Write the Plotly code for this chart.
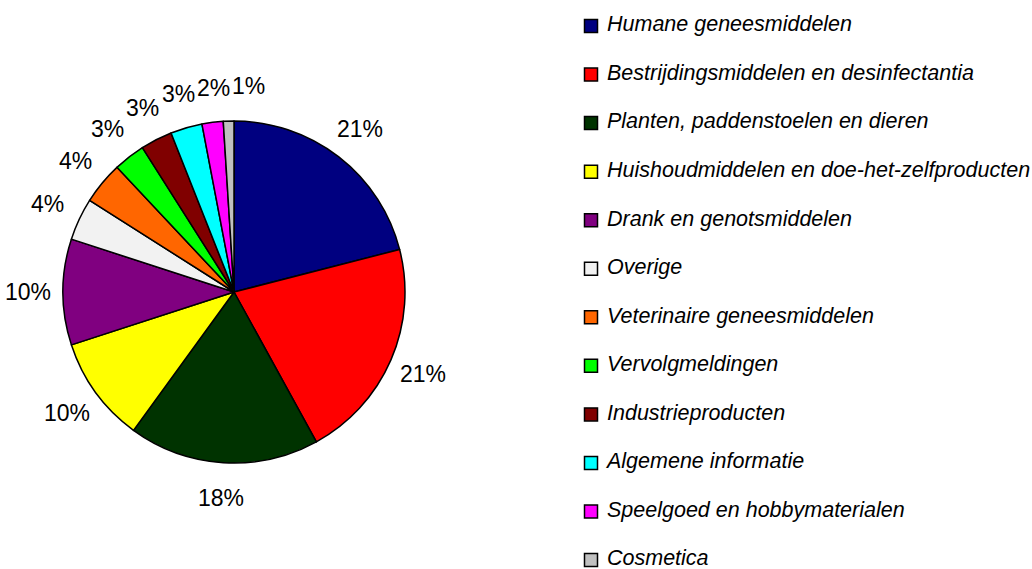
import math
import plotly.graph_objects as go

categories = [
    "Humane geneesmiddelen",
    "Bestrijdingsmiddelen en desinfectantia",
    "Planten, paddenstoelen en dieren",
    "Huishoudmiddelen en doe-het-zelfproducten",
    "Drank en genotsmiddelen",
    "Overige",
    "Veterinaire geneesmiddelen",
    "Vervolgmeldingen",
    "Industrieproducten",
    "Algemene informatie",
    "Speelgoed en hobbymaterialen",
    "Cosmetica",
]
percentages = [21, 21, 18, 10, 10, 4, 4, 3, 3, 3, 2, 1]
colors = [
    "#000080", "#FF0000", "#003300", "#FFFF00", "#800080", "#F2F2F2",
    "#FF6600", "#00FF00", "#800000", "#00FFFF", "#FF00FF", "#C0C0C0",
]

FONT = "Liberation Sans, Arial, sans-serif"
W, H = 1032, 569

# pie geometry in pixels
cx, cy, r = 234, 292, 171
label_r = 206
label_size = 23

fig = go.Figure()
fig.add_trace(go.Pie(
    labels=categories,
    values=percentages,
    sort=False,
    direction="clockwise",
    rotation=0,
    marker=dict(colors=colors, line=dict(color="black", width=1.5)),
    textinfo="none",
    hoverinfo="label+percent",
    showlegend=False,
    domain=dict(x=[(cx - r) / W, (cx + r) / W],
                y=[1 - (cy + r) / H, 1 - (cy - r) / H]),
))

# approximate Arial/Liberation advance widths (em units)
ADV = {"%": 0.889}
def text_width(t, size):
    return sum(ADV.get(ch, 0.556) for ch in t) * size

# percentage labels around the pie, at the middle angle of each slice
total = sum(percentages)
labels = []
cum = 0
for v in percentages:
    theta = math.radians((cum + v / 2) / total * 360)
    cum += v
    labels.append([cx + label_r * math.sin(theta),
                   cy - label_r * math.cos(theta),
                   f"{v}%"])

# push crowded labels on the upper left rightwards so they don't collide
label_h = label_size * 1.0
for i in range(1, len(labels)):
    a, b = labels[i - 1], labels[i]
    need = (text_width(a[2], label_size) + text_width(b[2], label_size)) / 2 + 2
    if abs(b[1] - a[1]) < label_h and 0 <= b[0] - a[0] < need:
        b[0] = a[0] + need

for px, py, text in labels:
    fig.add_annotation(
        x=px / W, y=1 - py / H, xref="paper", yref="paper",
        text=text, showarrow=False, xanchor="center", yanchor="middle",
        font=dict(family=FONT, size=label_size, color="black"),
    )

# legend: square swatches and italic labels placed on a hidden pixel axis
row_top, row_step = 26, 48.55
y0 = -row_top / row_step
y1 = y0 + H / row_step
sym_x, txt_x = 591, 607
rows = list(range(len(categories)))

fig.add_trace(go.Scatter(
    x=[sym_x] * len(categories), y=rows, mode="markers",
    marker=dict(symbol="square", size=13, color=colors,
                line=dict(color="black", width=1.5)),
    cliponaxis=False, showlegend=False, hoverinfo="skip",
))
fig.add_trace(go.Scatter(
    x=[txt_x] * len(categories), y=rows, mode="text",
    text=categories, textposition="middle right",
    textfont=dict(family=FONT, size=21.5, color="black", style="italic"),
    cliponaxis=False, showlegend=False, hoverinfo="skip",
))

fig.update_layout(
    width=W, height=H,
    margin=dict(l=0, r=0, t=0, b=0),
    paper_bgcolor="white", plot_bgcolor="rgba(0,0,0,0)",
    xaxis=dict(domain=[0, 1], range=[0, W], visible=False, fixedrange=True),
    yaxis=dict(domain=[0, 1], range=[y1, y0], visible=False, fixedrange=True),
    showlegend=False,
)

fig.write_html("out.html")
